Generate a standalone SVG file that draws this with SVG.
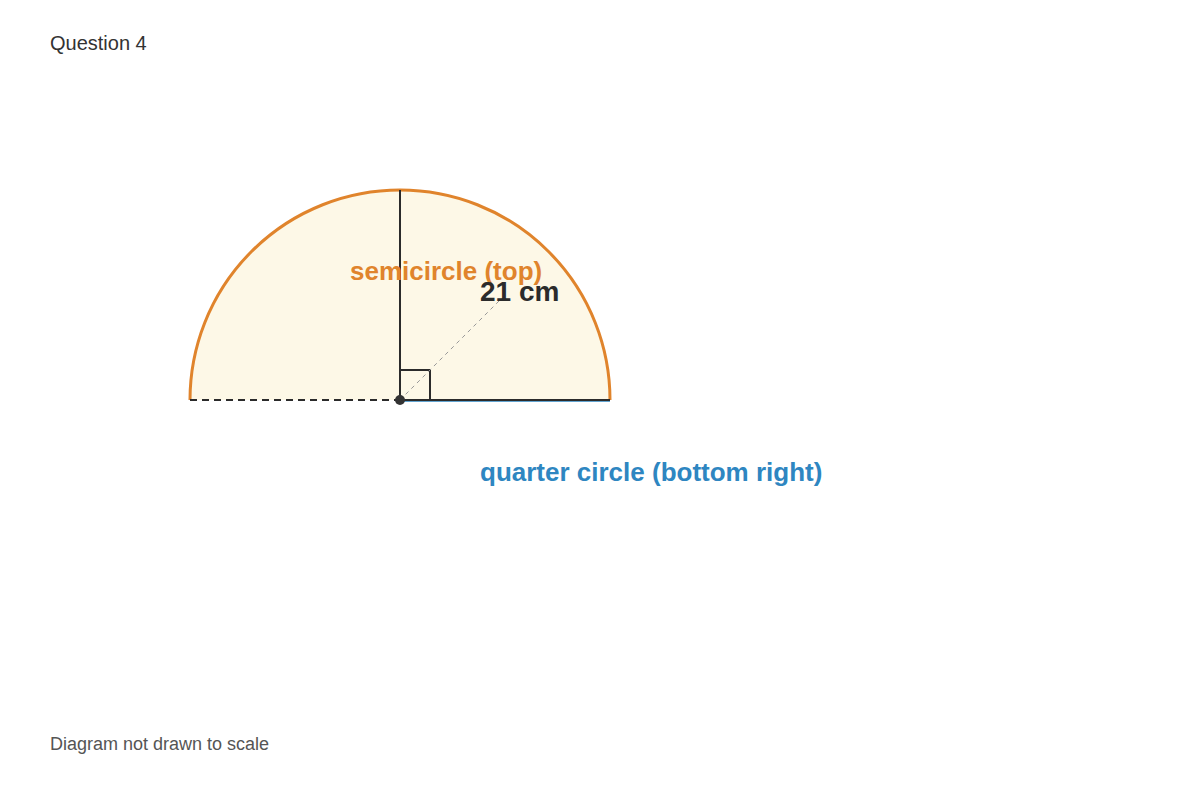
<svg xmlns="http://www.w3.org/2000/svg" width="1200" height="800" viewBox="0 0 1200 800">
<style>
text{font-family:"Liberation Sans",Arial,sans-serif}
.dark{stroke:#2b2b2b;stroke-width:2;fill:none}
</style>
<rect width="1200" height="800" fill="#ffffff"/>
<text x="50" y="50" font-size="20" fill="#333333">Question 4</text>
<g id="semicircle">
<path d="M190,400 A210,210 0 0 1 610,400 Z" fill="#fdf8e7" stroke="none"/>
<path d="M190,400 A210,210 0 0 1 610,400" fill="none" stroke="#e0842c" stroke-width="3"/>
</g>
<g id="connectors">
<line x1="190" y1="400" x2="400" y2="400" class="dark" stroke-dasharray="7,5"/>
<line x1="400" y1="401" x2="610" y2="401" stroke="#2e86c1" stroke-width="1.5"/>
<line x1="400" y1="400" x2="610" y2="400" class="dark"/>
<line x1="400" y1="190" x2="400" y2="400" class="dark"/>
<path d="M400,370 H430 V400" class="dark"/>
<line x1="400" y1="400" x2="502" y2="298" stroke="#999999" stroke-width="1" stroke-dasharray="4,4"/>
<circle cx="400" cy="400" r="5" fill="#333333"/>
</g>
<text x="350" y="280" font-size="26" font-weight="bold" fill="#e0842c">semicircle (top)</text>
<text x="480" y="301" font-size="28" font-weight="bold" fill="#2b2b2b">21 cm</text>
<text x="480" y="481" font-size="26" font-weight="bold" fill="#2e86c1">quarter circle (bottom right)</text>
<text x="50" y="750" font-size="18" fill="#555555">Diagram not drawn to scale</text>
</svg>
